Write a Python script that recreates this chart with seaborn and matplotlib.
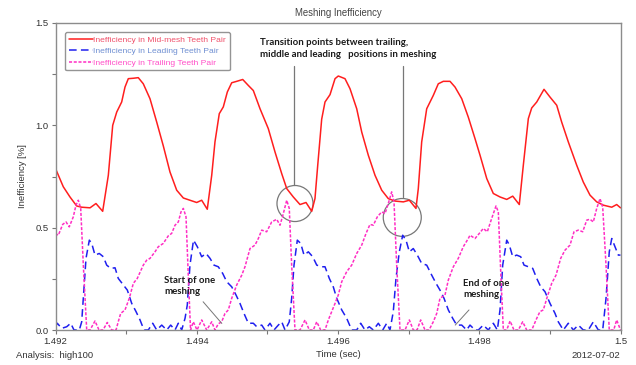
import numpy as np
import pandas as pd
import matplotlib
matplotlib.use("Agg")
import matplotlib.pyplot as plt
from matplotlib.patches import Ellipse
from matplotlib.ticker import MultipleLocator, FixedLocator
import seaborn as sns

# ---- Mid-mesh teeth pair inefficiency [%] ----
mid_time = [
    1.492000, 1.492110, 1.492205, 1.492300, 1.492371, 1.492489, 1.492573, 1.492668,
    1.492748, 1.492810, 1.492867, 1.492937, 1.492984, 1.493031, 1.493102, 1.493172,
    1.493243, 1.493338, 1.493433, 1.493526, 1.493621, 1.493716, 1.493810, 1.493904,
    1.493999, 1.494070, 1.494149, 1.494212, 1.494258, 1.494319, 1.494376, 1.494433,
    1.494495, 1.494566, 1.494651, 1.494730, 1.494801, 1.494896, 1.495013, 1.495108,
    1.495203, 1.495274, 1.495367, 1.495462, 1.495547, 1.495628, 1.495674, 1.495713,
    1.495769, 1.495816, 1.495887, 1.495958, 1.496004, 1.496099, 1.496170, 1.496265,
    1.496336, 1.496429, 1.496524, 1.496619, 1.496712, 1.496807, 1.496925, 1.497010,
    1.497104, 1.497137, 1.497185, 1.497256, 1.497349, 1.497420, 1.497491, 1.497586,
    1.497657, 1.497752, 1.497845, 1.497940, 1.498011, 1.498106, 1.498199, 1.498294,
    1.498389, 1.498474, 1.498567, 1.498624, 1.498695, 1.498743, 1.498814, 1.498917,
    1.499002, 1.499097, 1.499167, 1.499261, 1.499380, 1.499473, 1.499568, 1.499663,
    1.499757, 1.499876, 1.499946, 1.500000,
]
mid_value = [
    0.789, 0.700, 0.650, 0.606, 0.600, 0.597, 0.618, 0.580,
    0.756, 1.000, 1.065, 1.114, 1.187, 1.228, 1.230, 1.233,
    1.203, 1.130, 1.016, 0.900, 0.772, 0.683, 0.645, 0.634,
    0.623, 0.634, 0.590, 0.756, 0.919, 1.057, 1.090, 1.163,
    1.208, 1.215, 1.224, 1.195, 1.170, 1.081, 0.984, 0.870,
    0.764, 0.691, 0.650, 0.613, 0.623, 0.580, 0.642, 0.805,
    1.030, 1.114, 1.150, 1.228, 1.241, 1.228, 1.179, 1.081,
    0.967, 0.854, 0.756, 0.683, 0.642, 0.630, 0.626, 0.634,
    0.594, 0.691, 0.919, 1.081, 1.146, 1.203, 1.215, 1.215,
    1.187, 1.130, 1.040, 0.935, 0.854, 0.740, 0.667, 0.650,
    0.638, 0.654, 0.613, 0.805, 1.033, 1.085, 1.114, 1.176,
    1.138, 1.098, 1.016, 0.919, 0.805, 0.723, 0.659, 0.626,
    0.610, 0.600, 0.613, 0.597,
]

# ---- Leading teeth pair inefficiency [%] ----
lead_time = [
    1.492000, 1.492025, 1.492088, 1.492159, 1.492215, 1.492262, 1.492337, 1.492371,
    1.492394, 1.492432, 1.492479, 1.492513, 1.492559, 1.492620, 1.492677, 1.492725,
    1.492782, 1.492843, 1.492889, 1.492960, 1.493017, 1.493079, 1.493140, 1.493197,
    1.493253, 1.493314, 1.493376, 1.493433, 1.493504, 1.493575, 1.493631, 1.493692,
    1.493739, 1.493787, 1.493834, 1.493866, 1.493904, 1.493954, 1.494008, 1.494070,
    1.494131, 1.494188, 1.494244, 1.494305, 1.494368, 1.494424, 1.494495, 1.494556,
    1.494612, 1.494669, 1.494730, 1.494801, 1.494849, 1.494920, 1.494966, 1.495037,
    1.495094, 1.495155, 1.495203, 1.495250, 1.495310, 1.495344, 1.495377, 1.495424,
    1.495472, 1.495519, 1.495580, 1.495642, 1.495699, 1.495769, 1.495816, 1.495877,
    1.495934, 1.495982, 1.496053, 1.496123, 1.496194, 1.496265, 1.496321, 1.496382,
    1.496443, 1.496500, 1.496571, 1.496633, 1.496690, 1.496736, 1.496783, 1.496821,
    1.496868, 1.496916, 1.496963, 1.497010, 1.497066, 1.497123, 1.497185, 1.497256,
    1.497327, 1.497388, 1.497444, 1.497501, 1.497562, 1.497624, 1.497681, 1.497752,
    1.497822, 1.497869, 1.497940, 1.497987, 1.498057, 1.498128, 1.498199, 1.498256,
    1.498294, 1.498332, 1.498389, 1.498426, 1.498474, 1.498530, 1.498587, 1.498634,
    1.498695, 1.498757, 1.498814, 1.498870, 1.498931, 1.499002, 1.499073, 1.499119,
    1.499190, 1.499261, 1.499332, 1.499403, 1.499473, 1.499544, 1.499615, 1.499686,
    1.499748, 1.499795, 1.499841, 1.499876, 1.499922, 1.499969, 1.500000,
]
lead_value = [
    0.016, 0.033, 0.008, 0.016, 0.033, 0.000, 0.000, 0.040,
    0.155, 0.350, 0.439, 0.423, 0.366, 0.374, 0.358, 0.317,
    0.301, 0.304, 0.252, 0.220, 0.195, 0.130, 0.090, 0.049,
    0.000, 0.000, 0.033, 0.000, 0.024, 0.000, 0.024, 0.000,
    0.033, 0.000, 0.057, 0.122, 0.317, 0.439, 0.407, 0.358,
    0.374, 0.350, 0.317, 0.309, 0.276, 0.236, 0.211, 0.171,
    0.130, 0.081, 0.033, 0.033, 0.016, 0.024, 0.000, 0.033,
    0.000, 0.024, 0.040, 0.000, 0.040, 0.155, 0.317, 0.439,
    0.423, 0.366, 0.382, 0.358, 0.317, 0.309, 0.309, 0.252,
    0.210, 0.155, 0.098, 0.057, 0.000, 0.000, 0.033, 0.000,
    0.016, 0.000, 0.033, 0.000, 0.033, 0.000, 0.090, 0.252,
    0.382, 0.463, 0.439, 0.382, 0.398, 0.366, 0.325, 0.317,
    0.268, 0.228, 0.195, 0.155, 0.098, 0.057, 0.024, 0.024,
    0.000, 0.024, 0.000, 0.000, 0.024, 0.000, 0.033, 0.000,
    0.098, 0.317, 0.439, 0.415, 0.358, 0.366, 0.358, 0.317,
    0.309, 0.301, 0.252, 0.211, 0.187, 0.130, 0.081, 0.040,
    0.000, 0.033, 0.000, 0.024, 0.000, 0.000, 0.040, 0.000,
    0.000, 0.155, 0.382, 0.447, 0.407, 0.366, 0.366,
]

# ---- Trailing teeth pair inefficiency [%] ----
trail_time = [
    1.492000, 1.492040, 1.492102, 1.492149, 1.492195, 1.492252, 1.492290, 1.492323,
    1.492357, 1.492394, 1.492442, 1.492489, 1.492559, 1.492616, 1.492673, 1.492733,
    1.492796, 1.492857, 1.492889, 1.492923, 1.492984, 1.493045, 1.493102, 1.493158,
    1.493243, 1.493291, 1.493338, 1.493409, 1.493456, 1.493526, 1.493597, 1.493645,
    1.493692, 1.493739, 1.493777, 1.493810, 1.493848, 1.493880, 1.493912, 1.493951,
    1.494004, 1.494070, 1.494141, 1.494212, 1.494258, 1.494305, 1.494353, 1.494400,
    1.494447, 1.494495, 1.494566, 1.494637, 1.494683, 1.494754, 1.494825, 1.494872,
    1.494920, 1.494990, 1.495061, 1.495132, 1.495179, 1.495226, 1.495274, 1.495310,
    1.495344, 1.495391, 1.495462, 1.495533, 1.495594, 1.495650, 1.495699, 1.495755,
    1.495816, 1.495863, 1.495911, 1.495958, 1.496004, 1.496053, 1.496123, 1.496194,
    1.496265, 1.496336, 1.496397, 1.496453, 1.496500, 1.496557, 1.496619, 1.496666,
    1.496712, 1.496760, 1.496793, 1.496831, 1.496878, 1.496949, 1.497010, 1.497066,
    1.497119, 1.497171, 1.497232, 1.497289, 1.497349, 1.497398, 1.497444, 1.497515,
    1.497562, 1.497633, 1.497703, 1.497774, 1.497845, 1.497869, 1.497940, 1.498001,
    1.498057, 1.498114, 1.498176, 1.498237, 1.498270, 1.498308, 1.498341, 1.498389,
    1.498436, 1.498492, 1.498553, 1.498615, 1.498672, 1.498743, 1.498814, 1.498860,
    1.498907, 1.498964, 1.499026, 1.499087, 1.499153, 1.499214, 1.499285, 1.499342,
    1.499403, 1.499465, 1.499522, 1.499568, 1.499615, 1.499663, 1.499710, 1.499748,
    1.499795, 1.499841, 1.499904, 1.499946, 1.500000,
]
trail_value = [
    0.472, 0.463, 0.516, 0.528, 0.504, 0.553, 0.610, 0.634,
    0.594, 0.317, 0.000, 0.000, 0.044, 0.000, 0.000, 0.037,
    0.000, 0.000, 0.041, 0.081, 0.098, 0.155, 0.228, 0.252,
    0.317, 0.341, 0.350, 0.382, 0.407, 0.423, 0.460, 0.472,
    0.512, 0.528, 0.577, 0.594, 0.553, 0.268, 0.000, 0.040,
    0.000, 0.049, 0.000, 0.040, 0.000, 0.030, 0.040, 0.081,
    0.098, 0.155, 0.220, 0.268, 0.309, 0.398, 0.415, 0.447,
    0.488, 0.480, 0.528, 0.541, 0.512, 0.569, 0.634, 0.594,
    0.317, 0.000, 0.000, 0.049, 0.000, 0.000, 0.040, 0.000,
    0.000, 0.049, 0.090, 0.130, 0.171, 0.236, 0.285, 0.317,
    0.374, 0.415, 0.472, 0.516, 0.512, 0.553, 0.577, 0.569,
    0.618, 0.675, 0.626, 0.317, 0.000, 0.000, 0.049, 0.000,
    0.000, 0.049, 0.000, 0.000, 0.040, 0.081, 0.155, 0.171,
    0.244, 0.309, 0.350, 0.407, 0.447, 0.463, 0.447, 0.472,
    0.496, 0.480, 0.545, 0.606, 0.577, 0.252, 0.000, 0.000,
    0.044, 0.000, 0.000, 0.040, 0.000, 0.000, 0.057, 0.090,
    0.098, 0.163, 0.228, 0.268, 0.350, 0.390, 0.415, 0.480,
    0.488, 0.480, 0.537, 0.541, 0.528, 0.594, 0.642, 0.600,
    0.317, 0.000, 0.000, 0.049, 0.000,
]

series_names = [
    "Inefficiency in Mid-mesh Teeth Pair",
    "Inefficiency in Leading Teeth Pair",
    "Inefficiency in Trailing Teeth Pair",
]
x_ticks = [1.492, 1.494, 1.496, 1.498, 1.5]
x_tick_labels = ["1.492", "1.494", "1.496", "1.498", "1.5"]
y_ticks = [0.0, 0.5, 1.0, 1.5]
y_tick_labels = ["0.0", "0.5", "1.0", "1.5"]

line_colors = {series_names[0]: "#ff1e1e", series_names[1]: "#1f1fef", series_names[2]: "#ff2ec4"}
text_colors = ["#f0506a", "#6f8fd2", "#ff4fc8"]
line_dashes = {series_names[0]: "", series_names[1]: (5.0, 2.8), series_names[2]: (2.0, 1.1)}

df = pd.concat([
    pd.DataFrame({"time": mid_time, "value": mid_value, "series": series_names[0]}),
    pd.DataFrame({"time": lead_time, "value": lead_value, "series": series_names[1]}),
    pd.DataFrame({"time": trail_time, "value": trail_value, "series": series_names[2]}),
], ignore_index=True)

sns.set_theme(style="white")
plt.rcParams["font.family"] = ["Liberation Sans", "DejaVu Sans"]

W, H = 636, 365
fig = plt.figure(figsize=(W / 100, H / 100), dpi=100)
ax = fig.add_axes([55.5 / W, 1 - 330 / H, 565 / W, 307 / H])

sns.lineplot(data=df, x="time", y="value", hue="series", style="series",
             palette=line_colors, dashes=line_dashes, estimator=None, sort=False,
             linewidth=1.1, ax=ax, legend=True)

ax.set_xlim(1.492, 1.5)
ax.set_ylim(0.0, 1.5)
ax.xaxis.set_major_locator(FixedLocator(x_ticks))
ax.set_xticklabels(x_tick_labels)
ax.xaxis.set_minor_locator(MultipleLocator(0.001))
ax.yaxis.set_major_locator(FixedLocator(y_ticks))
ax.set_yticklabels(y_tick_labels)
ax.yaxis.set_minor_locator(MultipleLocator(0.25))
ax.tick_params(axis="both", which="both", direction="out", length=3, width=0.8,
               color="#777777", labelsize=6.8, labelcolor="#333333", pad=2,
               bottom=True, left=True)
for s in ax.spines.values():
    s.set_color("#8c8c8c")
    s.set_linewidth(1.0)

ax.set_xlabel("Time (sec)", fontsize=6.8, color="#333333", labelpad=3)
ax.set_ylabel("Inefficiency [%]", fontsize=6.8, color="#333333", labelpad=6)
ax.set_title("Meshing Inefficiency", fontsize=6.9, color="#444444", pad=5)

fig.text(16.5 / W, 1 - 355 / H, "Analysis:  high100", fontsize=6.8, color="#333333",
         ha="left", va="center")
fig.text(620 / W, 1 - 355 / H, "2012-07-02", fontsize=6.8, color="#333333",
         ha="right", va="center")

# legend with coloured entries
handles, labels = ax.get_legend_handles_labels()
leg = ax.legend(handles, labels, loc="upper left", bbox_to_anchor=(0.017, 0.971),
                borderaxespad=0, fontsize=6.1, frameon=True, fancybox=True,
                handlelength=2.8, handletextpad=0.05, labelspacing=0.42,
                borderpad=0.45)
leg.get_frame().set_edgecolor("#7a7a7a")
leg.get_frame().set_linewidth(1.0)
for txt, c in zip(leg.get_texts(), text_colors):
    txt.set_color(c)

# annotations: transition points
ann_font = dict(fontsize=6.9, fontweight="bold", color="#1a1a1a", family=["Lato", "DejaVu Sans"])
ax.text(1.494896, 1.425, "Transition points between trailing,\nmiddle and leading   positions in meshing",
        ha="left", va="top", linespacing=1.35, **ann_font)
ax.plot([1.495370, 1.495370], [1.288, 0.710], color="#777777", lw=0.9)
ax.plot([1.496925, 1.496925], [1.288, 0.650], color="#777777", lw=0.9)
ax.add_patch(Ellipse((1.495391, 0.618), 0.000510, 0.176, fill=False,
                     edgecolor="#777777", lw=0.9))
ax.add_patch(Ellipse((1.496910, 0.550), 0.000538, 0.185, fill=False,
                     edgecolor="#777777", lw=0.9))

# annotations: start and end of one meshing
ax.text(1.493539, 0.265, "Start of one\nmeshing", ha="left", va="top", linespacing=1.35, **ann_font)
ax.plot([1.494090, 1.494355], [0.138, 0.032], color="#777777", lw=0.7)
ax.text(1.497772, 0.250, "End of one\nmeshing", ha="left", va="top", linespacing=1.35, **ann_font)
ax.plot([1.497855, 1.497660], [0.098, 0.024], color="#777777", lw=0.7)

fig.savefig("out.png", dpi=100)
